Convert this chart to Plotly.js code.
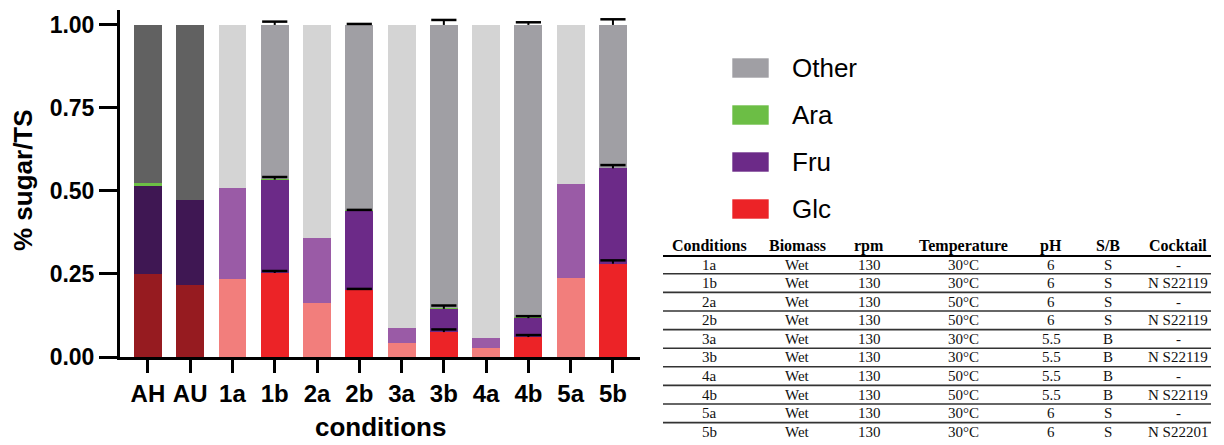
<!DOCTYPE html>
<html>
<head>
<meta charset="utf-8">
<script src="https://cdn.plot.ly/plotly-3.0.1.min.js"></script>
<style>html,body{margin:0;padding:0;background:#fff;}#chart{width:1224px;height:445px;}</style>
</head>
<body>
<div id="chart"></div>
<script>
// ---------- data ----------
const conditions = ['AH','AU','1a','1b','2a','2b','3a','3b','4a','4b','5a','5b'];
const groups     = ['raw','raw','a','b','a','b','a','b','a','b','a','b'];
const glc   = [0.249, 0.218, 0.235, 0.253, 0.163, 0.203, 0.043, 0.075, 0.028, 0.060, 0.238, 0.281];
const fru   = [0.265, 0.256, 0.274, 0.281, 0.195, 0.237, 0.045, 0.070, 0.030, 0.057, 0.284, 0.287];
const ara   = [0.011, 0.000, 0.000, 0.002, 0.000, 0.002, 0.000, 0.003, 0.000, 0.003, 0.000, 0.002];
const other = [0.475, 0.526, 0.491, 0.464, 0.642, 0.558, 0.912, 0.852, 0.942, 0.880, 0.478, 0.430];
const glcErr   = [null, null, null, 0.006, null, 0.002, null, 0.008, null, 0.006, null, 0.010];
const fruErr   = [null, null, null, 0.008, null, 0.003, null, 0.010, null, 0.006, null, 0.010];
const otherErr = [null, null, null, 0.010, null, 0.003, null, 0.015, null, 0.008, null, 0.017];
const yTicks = [0, 0.25, 0.5, 0.75, 1.0];
const legendNames = ['Other','Ara','Fru','Glc'];

const tableHeader = ['Conditions','Biomass','rpm','Temperature','pH','S/B','Cocktail'];
const tableCond = ['1a','1b','2a','2b','3a','3b','4a','4b','5a','5b'];
const tableBiomass = ['Wet','Wet','Wet','Wet','Wet','Wet','Wet','Wet','Wet','Wet'];
const tableRpm = ['130','130','130','130','130','130','130','130','130','130'];
const tableTemp = ['30°C','30°C','50°C','50°C','30°C','30°C','50°C','50°C','30°C','30°C'];
const tablePH = ['6','6','6','6','5.5','5.5','5.5','5.5','6','6'];
const tableSB = ['S','S','S','S','B','B','B','B','S','S'];
const tableCocktail = ['-','N S22119','-','N S22119','-','N S22119','-','N S22119','-','N S22201'];

// ---------- styles ----------
const pal = {
  raw: {glc:'#961B20', fru:'#3F1753', ara:'#6CBE45', other:'#616161'},
  a:   {glc:'#F27E7C', fru:'#9A5BA6', ara:'#6CBE45', other:'#D4D4D4'},
  b:   {glc:'#EC2327', fru:'#6C2A88', ara:'#6CBE45', other:'#A09FA4'}
};
const legendColors = {Other:'#A09FA4', Ara:'#6CBE45', Fru:'#6C2A88', Glc:'#EC2327'};

const ML = 120, MR = 584, MT = 10, MB = 88, W = 1224, H = 445;
const PW = W - ML - MR, PH = H - MT - MB;
const px = p => (p - ML) / PW;
const py = p => (H - MB - p) / PH;

function barTrace(name, vals, key) {
  return {
    type: 'bar', name: name, x: conditions, y: vals,
    marker: {color: groups.map(g => pal[g][key]), line: {width: 0}},
    showlegend: false, hoverinfo: 'x+y+name'
  };
}

const traces = [
  barTrace('Glc', glc, 'glc'),
  barTrace('Fru', fru, 'fru'),
  barTrace('Ara', ara, 'ara'),
  barTrace('Other', other, 'other')
];

// error bars (upper only, T shape)
function errTraces(tops, errs) {
  const xs = [], ys = [], es = [], caps = [];
  errs.forEach((e, i) => {
    if (e === null) return;
    xs.push(conditions[i]); ys.push(tops[i]); es.push(e); caps.push(tops[i] + e);
  });
  return [
    {type:'scatter', mode:'markers', x: xs, y: ys, marker:{size:1, opacity:0},
     error_y:{type:'data', symmetric:false, array: es, arrayminus: es.map(()=>0), width:0, thickness:2, color:'#000'},
     showlegend:false, hoverinfo:'skip'},
    {type:'scatter', mode:'markers', x: xs, y: caps,
     marker:{symbol:'line-ew', size:18, color:'#000', line:{width:2.5, color:'#000'}},
     showlegend:false, hoverinfo:'skip'}
  ];
}
const glcTop = glc.slice();
const fruTop = glc.map((v, i) => v + fru[i]);
const otherTop = glc.map((v, i) => v + fru[i] + ara[i] + other[i]);
traces.push(...errTraces(glcTop, glcErr), ...errTraces(fruTop, fruErr), ...errTraces(otherTop, otherErr));

// ---------- annotations & shapes ----------
const annotations = [];
const shapes = [];
const sans = 'Liberation Sans, Arial, sans-serif';
const serif = 'Liberation Serif, Times New Roman, serif';

annotations.push({xref:'paper', yref:'paper', x: px(23), y: py(180), text:'% sugar/TS', textangle:-90,
  showarrow:false, font:{family:sans, size:26, weight:'bold', color:'#000'}, xanchor:'center', yanchor:'middle'});
annotations.push({xref:'paper', yref:'paper', x: px(380), y: py(444), text:'conditions',
  showarrow:false, font:{family:sans, size:26, weight:'bold', color:'#000'}, xanchor:'center', yanchor:'bottom'});

// legend
const legY = [68, 115, 162, 209];
legendNames.forEach((n, i) => {
  shapes.push({type:'rect', xref:'paper', yref:'paper', x0: px(732), x1: px(769), y0: py(legY[i] - 10), y1: py(legY[i] + 10),
    fillcolor: legendColors[n], line:{width:1, color:'rgba(255,255,255,0.6)'}});
  annotations.push({xref:'paper', yref:'paper', x: px(790), y: py(legY[i]), text: n, showarrow:false,
    xanchor:'left', yanchor:'middle', font:{family:sans, size:26, color:'#000'}});
});

// table
const colX = [709, 797, 869, 963, 1051, 1108, 1178];
const cols = [tableCond, tableBiomass, tableRpm, tableTemp, tablePH, tableSB, tableCocktail];
tableHeader.forEach((h, j) => {
  annotations.push({xref:'paper', yref:'paper', x: px(colX[j]), y: py(246), text: h, showarrow:false,
    xanchor:'center', yanchor:'middle', font:{family:serif, size:16, weight:'bold', color:'#000'}});
});
cols.forEach((col, j) => {
  col.forEach((v, r) => {
    annotations.push({xref:'paper', yref:'paper', x: px(colX[j]), y: py(264.5 + 18.6 * r), text: v, showarrow:false,
      xanchor:'center', yanchor:'middle', font:{family:serif, size:15, color:'#111'}});
  });
});
shapes.push({type:'line', xref:'paper', yref:'paper', x0: px(663), x1: px(1211), y0: py(256), y1: py(256), line:{color:'#000', width:2}});
for (let r = 0; r < tableCond.length - 1; r++) {
  const yy = 273.8 + 18.6 * r;
  shapes.push({type:'line', xref:'paper', yref:'paper', x0: px(663), x1: px(1211), y0: py(yy), y1: py(yy), line:{color:'#333', width:1.6}});
}

const layout = {
  width: W, height: H,
  margin: {l: ML, r: MR, t: MT, b: MB, pad: 0},
  paper_bgcolor: '#fff', plot_bgcolor: '#fff',
  barmode: 'stack', bargap: 0.34,
  showlegend: false,
  xaxis: {
    type:'category', categoryorder:'array', categoryarray: conditions,
    range: [-0.66, 11.64], showgrid:false, zeroline:false,
    showline:true, linecolor:'#000', linewidth:3,
    ticks:'outside', ticklen:13, tickwidth:3, tickcolor:'#000',
    tickfont:{family:sans, size:24, weight:'bold', color:'#000'},
    automargin:false, fixedrange:true
  },
  yaxis: {
    range: [0, 1.045], tickvals: yTicks, tickformat: '.2f',
    showgrid:false, zeroline:false,
    showline:true, linecolor:'#000', linewidth:3,
    ticks:'outside', ticklen:18, tickwidth:3, tickcolor:'#000',
    tickfont:{family:sans, size:23, weight:'bold', color:'#000'},
    automargin:false, fixedrange:true
  },
  annotations: annotations,
  shapes: shapes
};

Plotly.newPlot('chart', traces, layout, {displayModeBar:false, staticPlot:true});
</script>
</body>
</html>
